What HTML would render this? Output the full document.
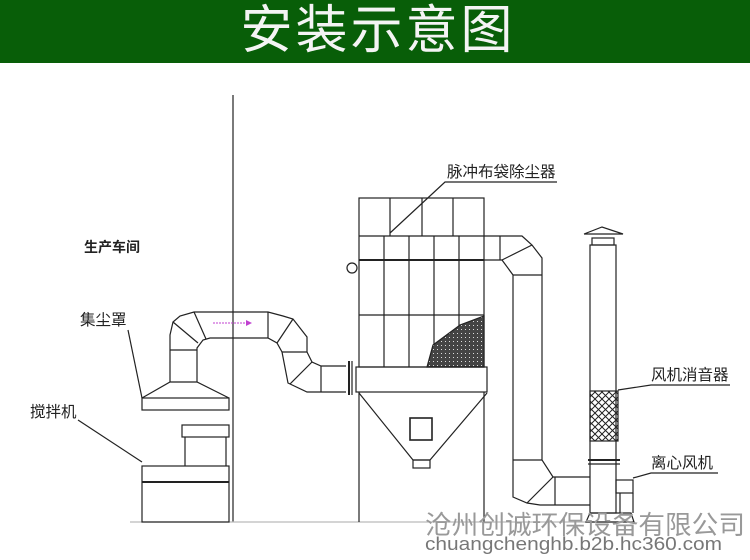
<!DOCTYPE html>
<html><head><meta charset="utf-8"><style>
body{margin:0;width:750px;height:560px;overflow:hidden;background:#fff;font-family:"Liberation Sans","Noto Sans CJK SC",sans-serif}
.hd{position:absolute;left:0;top:0;width:750px;height:63px;background:#085e08;color:#f4f4f4;font-size:52px;line-height:63px;text-align:center;letter-spacing:3px}
svg{position:absolute;left:0;top:0}
</style></head><body>
<div class="hd"><span style="position:relative;left:3px">安装示意图</span></div>
<svg width="750" height="560" viewBox="0 0 750 560" font-family="Liberation Sans, Noto Sans CJK SC, sans-serif">
<defs>
<pattern id="h" width="4" height="4" patternUnits="userSpaceOnUse"><rect width="4" height="4" fill="#444"/><rect x="1" y="1" width="1" height="1" fill="#ddd"/></pattern>
<pattern id="x" width="7" height="7" patternUnits="userSpaceOnUse"><path d="M0 0L7 7M7 0L0 7" stroke="#222" stroke-width="1"/></pattern>
</defs>
<g fill="none" stroke="#222" stroke-width="1.2">
<line x1="233" y1="95" x2="233" y2="522"/>
<line x1="130" y1="522" x2="620" y2="522" stroke="#bbb"/>
<rect x="142" y="398" width="87" height="12"/>
<polyline points="142,398 170,382 197,382 229,398"/>
<polyline points="170,382 170,335 173,322 180,316 194,312 268,312 283,316 293,319 307,337 307,352 312,362 321,366 346,366"/>
<polyline points="197,382 197,348 203,340 210,338 268,338 277,343 282,352 288,383 307,392 346,392"/>
<line x1="170" y1="350" x2="197" y2="350"/>
<line x1="173" y1="322" x2="198" y2="343"/>
<line x1="194" y1="312" x2="206" y2="339"/>
<line x1="268" y1="312" x2="268" y2="338"/>
<line x1="293" y1="319" x2="277" y2="343"/>
<line x1="307" y1="352" x2="282" y2="352"/>
<line x1="312" y1="362" x2="290" y2="384"/>
<line x1="321" y1="366" x2="321" y2="392"/>
<line x1="349" y1="361" x2="349" y2="395" stroke-width="2"/>
<line x1="352" y1="361" x2="352" y2="395"/>
<rect x="142" y="466" width="87" height="56"/>
<line x1="142" y1="482" x2="229" y2="482" stroke-width="2"/>
<rect x="182" y="425" width="47" height="12"/>
<line x1="185" y1="437" x2="185" y2="466"/><line x1="226" y1="437" x2="226" y2="466"/>
<rect x="359" y="198" width="125" height="169"/>
<line x1="359" y1="236" x2="484" y2="236"/>
<line x1="390" y1="198" x2="390" y2="236"/><line x1="422" y1="198" x2="422" y2="236"/><line x1="453" y1="198" x2="453" y2="236"/>
<line x1="384" y1="236" x2="384" y2="367"/><line x1="409" y1="236" x2="409" y2="367"/><line x1="434" y1="236" x2="434" y2="367"/><line x1="459" y1="236" x2="459" y2="367"/>
<line x1="359" y1="260" x2="484" y2="260" stroke-width="2"/>
<line x1="359" y1="315" x2="484" y2="315"/>
<polygon points="427,367 433,345 460,325 484,316 484,367" fill="url(#h)"/>
<rect x="356" y="367" width="131" height="25"/>
<line x1="359" y1="392" x2="359" y2="522"/><line x1="484" y1="392" x2="484" y2="522"/>
<polyline points="359,393 413,460 430,460 487,393"/>
<rect x="413" y="460" width="17" height="8"/>
<rect x="410" y="418" width="22" height="22" stroke-width="1.6"/>
<circle cx="352" cy="268" r="5"/>
<polyline points="484,236 522,236 532,245 542,258 542,460 553,477 590,477"/>
<polyline points="484,260 502,260 513,275 513,497 527,503 540,505 590,505"/>
<line x1="500" y1="236" x2="500" y2="260"/>
<line x1="532" y1="245" x2="502" y2="260"/>
<line x1="542" y1="275" x2="513" y2="275"/>
<line x1="513" y1="460" x2="542" y2="460"/>
<line x1="553" y1="477" x2="527" y2="503"/>
<line x1="555" y1="477" x2="555" y2="505"/>
<polyline points="584,234 602,227 623,234 584,234"/>
<rect x="592" y="238" width="22" height="7"/>
<rect x="590" y="245" width="26" height="268"/>
<rect x="590" y="391" width="28" height="50" fill="url(#x)"/>
<line x1="588" y1="460" x2="620" y2="460" stroke-width="2"/><line x1="588" y1="464" x2="620" y2="464"/>
<polyline points="590,513 586,522 634,522 631,513 590,513"/>
<rect x="616" y="480" width="17" height="13"/>
<line x1="620" y1="493" x2="620" y2="513"/><line x1="633" y1="493" x2="633" y2="513"/>
<polyline points="557,182 445,182 390,233"/>
<polyline points="730,385 651,385 618,390"/>
<polyline points="718,473 651,473 633,478"/>
<line x1="128" y1="330" x2="142" y2="398"/>
<line x1="78" y1="420" x2="142" y2="462"/>
</g>
<line x1="213" y1="323" x2="248" y2="323" stroke="#c040d0" stroke-dasharray="2 1"/>
<polygon points="246,320 252,323 246,326" fill="#c040d0"/>
<g fill="#222" font-size="15.5">
<text x="447" y="177">脉冲布袋除尘器</text>
<text x="651" y="380">风机消音器</text>
<text x="651" y="468">离心风机</text>
<text x="84" y="252" font-weight="bold" font-size="14">生产车间</text>
<text x="80" y="325">集尘罩</text>
<text x="30" y="417">搅拌机</text>
</g>
<text x="425" y="534" font-size="26" fill="#999" textLength="320" lengthAdjust="spacingAndGlyphs">沧州创诚环保设备有限公司</text>
<text x="425" y="550" font-size="18" fill="#777" textLength="297" lengthAdjust="spacingAndGlyphs">chuangchenghb.b2b.hc360.com</text>
</svg>
</body></html>
